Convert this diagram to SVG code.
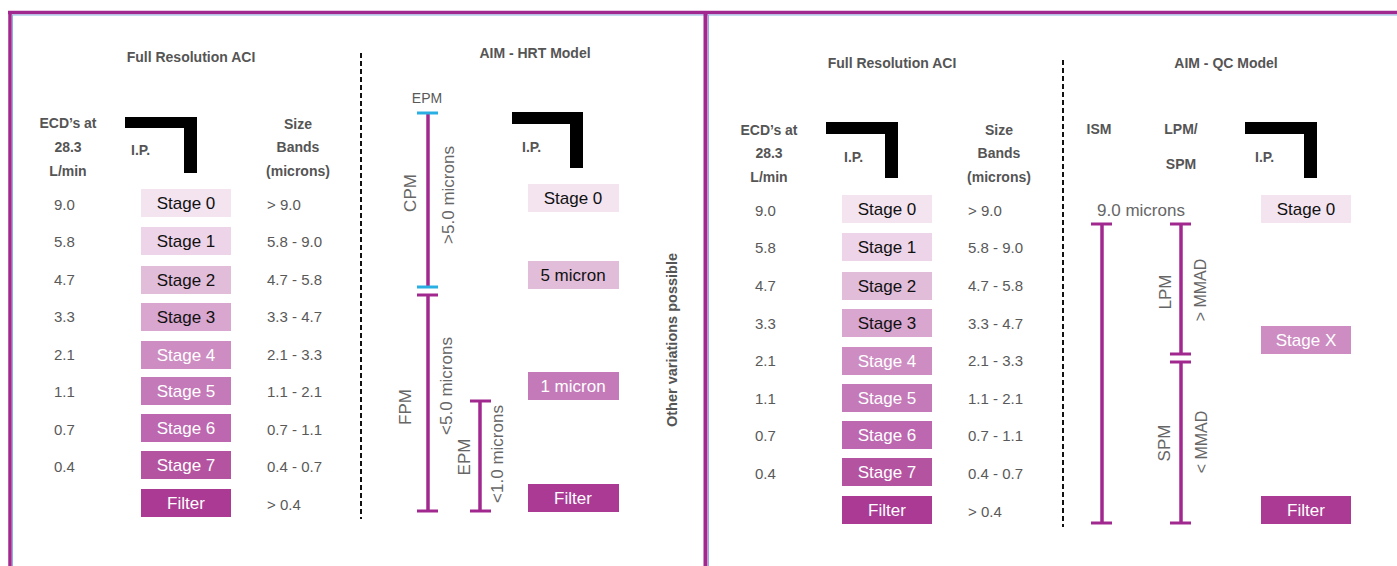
<svg xmlns="http://www.w3.org/2000/svg" width="1397" height="566" viewBox="0 0 1397 566">
<style>
.h{font-family:"Liberation Sans",Arial,sans-serif;font-weight:bold;font-size:14px;fill:#555}
.n{font-family:"Liberation Sans",Arial,sans-serif;font-size:15px;fill:#595959}
.r{font-family:"Liberation Sans",Arial,sans-serif;font-size:17px;fill:#666}
.st{font-family:"Liberation Sans",Arial,sans-serif;font-size:17px;text-anchor:middle}
.dk{fill:#111}.wt{fill:#fff}
.bar{stroke:#A1288F;stroke-width:3.5;fill:none}
.cap{stroke:#A1288F;stroke-width:3;fill:none}
.cy{stroke:#2AAFE3;stroke-width:3;fill:none}
.dash{stroke:#111;stroke-width:2;stroke-dasharray:5 3;fill:none}
.ip{fill:#000}
.c0{fill:#F3E4F0}.c1{fill:#EDD4E8}.c2{fill:#E2BDDA}.c3{fill:#D8A6CE}.c4{fill:#CD8DC2}.c5{fill:#C47AB8}.c6{fill:#BC67AF}.c7{fill:#B4539F}.cf{fill:#AA3A93}
</style>
<rect width="1397" height="566" fill="#fff"/>
<!-- frame -->
<g id="frame">
<line x1="8" y1="12.5" x2="1397" y2="12.5" stroke="#A1288F" stroke-width="3.5"/>
<line x1="12" y1="15" x2="1397" y2="15" stroke="#8BB3E0" stroke-width="1"/>
<line x1="10" y1="11" x2="10" y2="566" stroke="#A1288F" stroke-width="3.5"/>
<line x1="12.5" y1="15" x2="12.5" y2="566" stroke="#8BB3E0" stroke-width="1"/>
<line x1="705.5" y1="11" x2="705.5" y2="566" stroke="#A1288F" stroke-width="4"/>
<line x1="708.5" y1="15" x2="708.5" y2="566" stroke="#8BB3E0" stroke-width="1"/>
</g>

<!-- LEFT PANEL: Full Resolution ACI -->
<g id="left-aci">
<text class="h" x="191" y="62" text-anchor="middle">Full Resolution ACI</text>
<text class="h" x="68" y="128" text-anchor="middle">ECD’s at</text>
<text class="h" x="68" y="152" text-anchor="middle">28.3</text>
<text class="h" x="68" y="176" text-anchor="middle">L/min</text>
<text class="h" x="298" y="129" text-anchor="middle">Size</text>
<text class="h" x="298" y="152" text-anchor="middle">Bands</text>
<text class="h" x="298" y="176" text-anchor="middle">(microns)</text>
<g id="left-ip">
<path class="ip" d="M125 117H197V173H184V128H125Z"/>
<text class="h" x="131" y="155">I.P.</text>
</g>
</g>
<g id="left-stages">
<g id="l-s0"><rect class="c0" x="141" y="189" width="90" height="28"/><text class="st dk" x="186" y="209">Stage 0</text><text class="n" x="54" y="210">9.0</text><text class="n" x="267" y="210">&gt; 9.0</text></g>
<g id="l-s1"><rect class="c1" x="141" y="227" width="90" height="28"/><text class="st dk" x="186" y="247">Stage 1</text><text class="n" x="54" y="247">5.8</text><text class="n" x="267" y="247">5.8 - 9.0</text></g>
<g id="l-s2"><rect class="c2" x="141" y="266" width="90" height="28"/><text class="st dk" x="186" y="286">Stage 2</text><text class="n" x="54" y="285">4.7</text><text class="n" x="267" y="285">4.7 - 5.8</text></g>
<g id="l-s3"><rect class="c3" x="141" y="303" width="90" height="28"/><text class="st dk" x="186" y="323">Stage 3</text><text class="n" x="54" y="322">3.3</text><text class="n" x="267" y="322">3.3 - 4.7</text></g>
<g id="l-s4"><rect class="c4" x="141" y="341" width="90" height="28"/><text class="st wt" x="186" y="361">Stage 4</text><text class="n" x="54" y="360">2.1</text><text class="n" x="267" y="360">2.1 - 3.3</text></g>
<g id="l-s5"><rect class="c5" x="141" y="377" width="90" height="28"/><text class="st wt" x="186" y="397">Stage 5</text><text class="n" x="54" y="397">1.1</text><text class="n" x="267" y="397">1.1 - 2.1</text></g>
<g id="l-s6"><rect class="c6" x="141" y="414" width="90" height="28"/><text class="st wt" x="186" y="434">Stage 6</text><text class="n" x="54" y="435">0.7</text><text class="n" x="267" y="435">0.7 - 1.1</text></g>
<g id="l-s7"><rect class="c7" x="141" y="451" width="90" height="28"/><text class="st wt" x="186" y="471">Stage 7</text><text class="n" x="54" y="472">0.4</text><text class="n" x="267" y="472">0.4 - 0.7</text></g>
<g id="l-filter"><rect class="cf" x="141" y="489" width="90" height="28"/><text class="st wt" x="186" y="509">Filter</text><text class="n" x="267" y="510">&gt; 0.4</text></g>
</g>

<!-- HRT model -->
<g id="hrt">
<text class="h" x="535" y="58" text-anchor="middle">AIM - HRT Model</text>
<text class="n" x="427" y="103" text-anchor="middle" style="font-size:14px">EPM</text>
<g id="hrt-ip">
<path class="ip" d="M512 112H583V168H570V124H512Z"/>
<text class="h" x="522" y="152">I.P.</text>
</g>
<g id="hrt-s0"><rect class="c0" x="528" y="184" width="91" height="28"/><text class="st dk" x="573" y="204">Stage 0</text></g>
<g id="hrt-5"><rect class="c2" x="528" y="261" width="91" height="28"/><text class="st dk" x="573" y="281">5 micron</text></g>
<g id="hrt-1"><rect class="c5" x="528" y="372" width="91" height="28"/><text class="st wt" x="573" y="392">1 micron</text></g>
<g id="hrt-f"><rect class="cf" x="528" y="484" width="91" height="28"/><text class="st wt" x="573" y="504">Filter</text></g>
<text class="r" transform="translate(416 193) rotate(-90)" text-anchor="middle">CPM</text>
<text class="r" transform="translate(454 195) rotate(-90)" text-anchor="middle">&gt;5.0 microns</text>
<text class="r" transform="translate(411 407) rotate(-90)" text-anchor="middle">FPM</text>
<text class="r" transform="translate(452 386) rotate(-90)" text-anchor="middle">&lt;5.0 microns</text>
<text class="r" transform="translate(470 457) rotate(-90)" text-anchor="middle">EPM</text>
<text class="r" transform="translate(503 454) rotate(-90)" text-anchor="middle">&lt;1.0 microns</text>
<text class="h" transform="translate(677 340) rotate(-90)" text-anchor="middle" style="font-size:14.5px">Other variations possible</text>
</g>

<!-- RIGHT PANEL -->
<g id="right-aci">
<text class="h" x="892" y="68" text-anchor="middle">Full Resolution ACI</text>
<text class="h" x="769" y="135" text-anchor="middle">ECD’s at</text>
<text class="h" x="769" y="158" text-anchor="middle">28.3</text>
<text class="h" x="769" y="182" text-anchor="middle">L/min</text>
<text class="h" x="999" y="135" text-anchor="middle">Size</text>
<text class="h" x="999" y="158" text-anchor="middle">Bands</text>
<text class="h" x="999" y="182" text-anchor="middle">(microns)</text>
<g id="right-ip">
<path class="ip" d="M826 122H898V178H885V134H826Z"/>
<text class="h" x="844" y="162">I.P.</text>
</g>
</g>
<g id="right-stages">
<g id="r-s0"><rect class="c0" x="842" y="195" width="90" height="28"/><text class="st dk" x="887" y="215">Stage 0</text><text class="n" x="755" y="216">9.0</text><text class="n" x="968" y="216">&gt; 9.0</text></g>
<g id="r-s1"><rect class="c1" x="842" y="233" width="90" height="28"/><text class="st dk" x="887" y="253">Stage 1</text><text class="n" x="755" y="253">5.8</text><text class="n" x="968" y="253">5.8 - 9.0</text></g>
<g id="r-s2"><rect class="c2" x="842" y="272" width="90" height="28"/><text class="st dk" x="887" y="292">Stage 2</text><text class="n" x="755" y="291">4.7</text><text class="n" x="968" y="291">4.7 - 5.8</text></g>
<g id="r-s3"><rect class="c3" x="842" y="309" width="90" height="28"/><text class="st dk" x="887" y="329">Stage 3</text><text class="n" x="755" y="329">3.3</text><text class="n" x="968" y="329">3.3 - 4.7</text></g>
<g id="r-s4"><rect class="c4" x="842" y="347" width="90" height="28"/><text class="st wt" x="887" y="367">Stage 4</text><text class="n" x="755" y="366">2.1</text><text class="n" x="968" y="366">2.1 - 3.3</text></g>
<g id="r-s5"><rect class="c5" x="842" y="384" width="90" height="28"/><text class="st wt" x="887" y="404">Stage 5</text><text class="n" x="755" y="404">1.1</text><text class="n" x="968" y="404">1.1 - 2.1</text></g>
<g id="r-s6"><rect class="c6" x="842" y="421" width="90" height="28"/><text class="st wt" x="887" y="441">Stage 6</text><text class="n" x="755" y="441">0.7</text><text class="n" x="968" y="441">0.7 - 1.1</text></g>
<g id="r-s7"><rect class="c7" x="842" y="458" width="90" height="28"/><text class="st wt" x="887" y="478">Stage 7</text><text class="n" x="755" y="479">0.4</text><text class="n" x="968" y="479">0.4 - 0.7</text></g>
<g id="r-filter"><rect class="cf" x="842" y="496" width="90" height="28"/><text class="st wt" x="887" y="516">Filter</text><text class="n" x="968" y="517">&gt; 0.4</text></g>
</g>

<!-- QC model -->
<g id="qc">
<text class="h" x="1226" y="68" text-anchor="middle">AIM - QC Model</text>
<text class="h" x="1099" y="134" text-anchor="middle">ISM</text>
<text class="h" x="1181" y="134" text-anchor="middle">LPM/</text>
<text class="h" x="1181" y="169" text-anchor="middle">SPM</text>
<text class="r" x="1141" y="216" text-anchor="middle">9.0 microns</text>
<g id="qc-ip">
<path class="ip" d="M1245 122H1317V178H1304V134H1245Z"/>
<text class="h" x="1255" y="162">I.P.</text>
</g>
<g id="qc-s0"><rect class="c0" x="1261" y="195" width="90" height="28"/><text class="st dk" x="1306" y="215">Stage 0</text></g>
<g id="qc-sx"><rect class="c4" x="1261" y="326" width="90" height="28"/><text class="st wt" x="1306" y="346">Stage X</text></g>
<g id="qc-f"><rect class="cf" x="1261" y="496" width="90" height="28"/><text class="st wt" x="1306" y="516">Filter</text></g>
<text class="r" transform="translate(1171 292) rotate(-90)" text-anchor="middle">LPM</text>
<text class="r" transform="translate(1206 290) rotate(-90)" text-anchor="middle" style="font-size:16px">&gt; MMAD</text>
<text class="r" transform="translate(1170 443) rotate(-90)" text-anchor="middle">SPM</text>
<text class="r" transform="translate(1207 442) rotate(-90)" text-anchor="middle" style="font-size:16px">&lt; MMAD</text>
</g>

<!-- connectors / range bars -->
<g id="connectors">
<line class="dash" x1="361" y1="53" x2="361" y2="519"/>
<line class="dash" x1="1063" y1="60" x2="1063" y2="527"/>
<!-- HRT CPM bar -->
<line class="bar" x1="428" y1="113" x2="428" y2="287"/>
<line class="cy" x1="417" y1="113" x2="438" y2="113"/>
<line class="cy" x1="417" y1="287" x2="438" y2="287"/>
<!-- HRT FPM bar -->
<line class="bar" x1="428" y1="295" x2="428" y2="511"/>
<line class="cap" x1="417" y1="295" x2="438" y2="295"/>
<line class="cap" x1="417" y1="511" x2="438" y2="511"/>
<!-- HRT EPM bar -->
<line class="bar" x1="480" y1="401" x2="480" y2="511"/>
<line class="cap" x1="470" y1="401" x2="491" y2="401"/>
<line class="cap" x1="470" y1="511" x2="491" y2="511"/>
<!-- QC ISM bar -->
<line class="bar" x1="1102" y1="224" x2="1102" y2="523"/>
<line class="cap" x1="1091" y1="224" x2="1112" y2="224"/>
<line class="cap" x1="1091" y1="523" x2="1112" y2="523"/>
<!-- QC LPM bar -->
<line class="bar" x1="1181" y1="224" x2="1181" y2="354"/>
<line class="cap" x1="1170" y1="224" x2="1191" y2="224"/>
<line class="cap" x1="1170" y1="354" x2="1191" y2="354"/>
<!-- QC SPM bar -->
<line class="bar" x1="1181" y1="362" x2="1181" y2="523"/>
<line class="cap" x1="1170" y1="362" x2="1191" y2="362"/>
<line class="cap" x1="1170" y1="523" x2="1191" y2="523"/>
</g>
</svg>
